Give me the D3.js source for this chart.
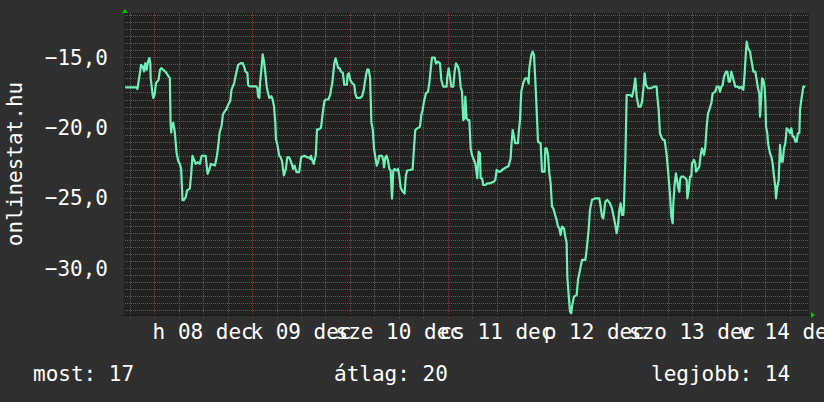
<!DOCTYPE html>
<html><head><meta charset="utf-8">
<script src="https://cdn.jsdelivr.net/npm/d3@7"></script>
<style>html,body{margin:0;padding:0;background:#2f2f2f;}svg{display:block;}</style>
</head><body>
<script>
// hours relative to 2014-12-08 00:00 and temperature values
const hours = [-7.16,-4.31,-4.15,-3.66,-3.25,-2.85,-2.52,-2.20,-1.87,-1.55,-1.22,-0.98,-0.89,-0.41,-0.24,0.08,0.41,0.73,1.06,1.38,1.71,2.20,2.68,3.01,3.50,3.82,3.99,4.15,4.31,4.64,5.04,5.45,5.86,6.26,6.59,6.92,7.24,7.73,8.05,8.71,9.03,9.36,9.68,10.17,10.66,11.15,11.63,12.61,12.94,13.10,13.42,13.91,14.89,15.38,15.70,16.03,16.52,16.84,17.33,17.66,18.14,18.63,18.96,19.61,20.10,20.58,21.23,21.72,22.05,22.37,22.86,23.02,23.35,24.98,25.30,25.47,25.79,25.95,26.28,26.60,26.93,27.26,27.58,27.91,28.23,28.72,29.05,29.37,29.70,29.86,30.18,30.67,31.00,31.32,31.81,32.30,32.63,33.11,33.60,34.09,34.42,34.90,35.55,35.88,36.04,36.86,37.51,38.00,38.32,38.48,38.81,39.13,39.30,39.62,39.95,40.44,40.92,41.25,41.74,42.06,42.71,43.20,43.37,43.69,44.18,44.50,44.83,45.15,45.48,45.81,46.29,46.62,47.27,47.43,47.76,48.08,48.57,49.06,49.39,49.71,50.52,51.01,51.34,51.66,51.99,52.31,52.64,52.97,53.29,53.62,53.94,54.27,54.60,54.92,55.24,55.89,56.22,56.38,56.71,57.04,57.36,57.69,58.01,58.34,58.50,58.66,58.99,59.31,59.64,59.80,60.13,60.45,60.78,61.10,61.43,61.75,62.08,62.75,63.41,63.74,64.06,64.56,65.21,65.54,65.87,66.19,66.68,67.17,67.50,67.83,68.15,68.81,69.14,69.63,70.12,70.45,70.94,71.75,71.92,72.25,72.57,72.90,73.39,73.72,74.05,74.54,74.86,75.19,75.52,75.85,76.17,76.34,76.66,76.99,77.32,77.65,77.97,78.30,78.79,79.12,79.28,79.61,79.94,80.10,80.43,80.76,81.25,81.74,82.39,83.37,83.70,84.03,84.52,85.01,85.34,85.99,86.97,87.47,87.63,87.96,88.28,88.61,89.27,89.43,89.76,90.08,90.58,91.07,91.56,91.88,92.05,92.54,92.87,93.19,93.52,93.85,94.18,94.83,95.16,95.81,95.98,96.30,96.63,96.96,97.29,97.61,97.94,98.27,98.76,99.09,99.41,99.74,100.07,100.56,100.89,101.21,101.38,101.70,102.03,102.36,102.52,103.01,103.67,104.00,104.49,104.98,105.80,106.12,106.61,106.94,107.43,108.25,109.23,109.56,109.89,110.21,110.71,111.20,111.85,112.34,112.83,113.16,113.49,113.82,114.14,114.47,114.80,115.12,115.29,115.62,115.94,116.76,117.25,117.58,118.07,118.40,118.89,119.38,119.71,120.03,120.36,120.69,121.18,121.83,122.65,123.31,123.47,123.80,124.12,124.62,124.94,125.27,125.76,126.09,126.58,126.91,127.24,127.40,127.73,128.05,128.55,128.87,129.04,129.36,129.86,130.35,130.67,130.84,131.17,131.49,131.82,131.98,132.47,132.80,132.96,133.29,133.78,134.11,134.44,134.93,135.25,135.58,135.91,136.24,136.56,136.73,137.05,137.71,138.04,138.53,138.86,139.18,139.51,139.84,140.33,140.66,140.98,141.31,141.64,141.96,142.29,142.62,143.27,143.60,144.09,144.26,144.58,144.91,145.24,145.40,145.73,146.22,146.55,147.04,147.53,147.86,148.18,148.51,148.67,149.00,149.17,149.49,149.82,149.98,150.15,150.47,150.64,151.13,151.45,151.78,152.11,152.44,152.60,152.93,153.26,153.58,153.91,154.24,154.56,154.89,155.22,155.71,156.04,156.37,156.69,157.02,157.35,157.67,157.98,158.33,158.49,158.82,159.31,159.80];
const temps = [-17.14,-17.14,-17.25,-16.36,-15.54,-15.66,-16.01,-15.42,-15.89,-15.31,-15.05,-15.42,-16.48,-17.65,-17.89,-17.65,-16.83,-16.71,-16.60,-15.89,-15.77,-15.89,-16.01,-16.13,-16.36,-16.48,-19.65,-20.35,-19.88,-19.65,-20.35,-21.76,-22.35,-22.58,-22.93,-25.16,-25.16,-24.93,-24.46,-24.34,-23.40,-22.00,-22.23,-22.58,-22.46,-22.58,-22.00,-22.00,-22.93,-23.29,-23.05,-22.58,-22.70,-22.00,-21.29,-20.35,-19.88,-19.06,-18.83,-18.71,-18.36,-18.12,-17.30,-16.83,-16.13,-15.54,-15.42,-15.42,-15.66,-16.01,-16.13,-16.95,-17.07,-17.07,-17.18,-17.77,-17.89,-16.83,-15.89,-14.79,-15.31,-16.13,-17.07,-17.54,-17.89,-17.77,-18.00,-18.47,-19.65,-20.82,-21.17,-22.00,-22.11,-22.35,-23.40,-22.93,-22.11,-22.11,-22.46,-22.93,-22.70,-23.17,-23.17,-22.46,-22.11,-22.00,-22.11,-22.11,-22.23,-22.00,-22.35,-22.58,-22.35,-22.00,-20.12,-20.12,-20.00,-19.18,-18.12,-18.00,-18.00,-17.65,-17.30,-16.83,-15.42,-15.07,-15.42,-15.77,-15.77,-16.01,-16.13,-16.95,-16.95,-16.24,-16.13,-16.60,-16.83,-16.95,-17.65,-17.89,-17.89,-17.77,-17.42,-16.83,-16.24,-15.85,-15.89,-16.48,-19.65,-20.12,-21.53,-22.11,-22.70,-22.46,-22.00,-22.00,-22.35,-22.82,-22.11,-22.00,-22.35,-22.93,-23.05,-25.05,-24.23,-23.05,-22.93,-23.05,-23.05,-22.93,-23.40,-24.23,-24.46,-24.58,-24.69,-23.40,-23.05,-23.01,-22.96,-21.47,-20.17,-20.05,-19.93,-19.10,-18.74,-18.15,-17.56,-17.44,-16.85,-15.90,-15.02,-15.02,-15.43,-15.31,-15.43,-16.61,-17.09,-17.09,-16.37,-15.78,-16.37,-17.09,-17.09,-16.02,-15.43,-15.66,-16.02,-17.09,-17.44,-19.46,-19.34,-17.80,-19.34,-19.46,-19.46,-21.47,-21.94,-22.18,-22.54,-23.25,-23.60,-21.71,-21.83,-23.60,-23.60,-24.08,-24.08,-23.96,-23.96,-23.84,-23.72,-23.01,-23.13,-23.13,-23.01,-22.89,-22.73,-22.18,-21.35,-20.17,-20.64,-21.11,-21.11,-20.40,-19.46,-17.44,-16.80,-16.49,-16.49,-16.85,-15.78,-14.83,-14.60,-14.83,-16.61,-18.74,-21.00,-21.11,-23.13,-23.13,-21.47,-21.47,-21.94,-23.25,-23.96,-25.62,-25.74,-26.09,-26.57,-27.04,-27.16,-27.63,-27.04,-27.16,-27.75,-28.22,-30.59,-31.90,-33.08,-33.20,-32.73,-32.02,-31.90,-30.83,-30.12,-29.41,-29.41,-28.70,-27.28,-25.85,-25.14,-25.03,-25.03,-25.62,-26.33,-26.45,-25.26,-25.14,-25.38,-25.74,-26.45,-26.92,-27.51,-26.92,-25.85,-25.38,-26.21,-26.21,-25.38,-22.30,-17.68,-17.68,-17.80,-17.44,-16.49,-17.80,-18.51,-18.51,-18.15,-17.32,-16.14,-16.97,-17.20,-17.20,-17.09,-17.09,-17.80,-18.74,-20.40,-20.76,-20.88,-20.88,-21.94,-23.01,-24.79,-26.33,-26.80,-25.38,-23.96,-23.25,-24.20,-24.55,-23.72,-23.48,-23.48,-23.60,-23.72,-25.03,-24.43,-23.48,-23.48,-22.54,-22.30,-22.54,-23.13,-23.01,-22.77,-21.94,-21.47,-21.94,-21.35,-19.93,-18.98,-18.74,-18.39,-18.27,-17.56,-17.44,-17.09,-17.09,-17.44,-17.09,-16.97,-16.37,-16.02,-16.02,-16.73,-16.73,-16.02,-16.37,-16.73,-17.09,-17.09,-17.20,-17.09,-17.20,-17.32,-16.14,-14.48,-13.89,-14.36,-14.60,-15.19,-16.02,-16.02,-16.61,-17.20,-17.56,-19.22,-17.80,-16.49,-16.61,-17.20,-18.03,-19.93,-20.40,-21.11,-21.83,-22.06,-22.54,-23.48,-24.20,-25.03,-24.20,-23.72,-21.23,-22.42,-22.42,-21.47,-21.11,-20.05,-20.17,-20.40,-20.05,-20.64,-20.64,-21.00,-21.00,-20.40,-20.40,-18.74,-18.03,-17.09,-17.09];

const yTicks = [-15, -20, -25, -30];
const dayLabels = ["h 08 dec", "k 09 dec", "sze 10 dec", "cs 11 dec", "p 12 dec", "szo 13 dec", "v 14 dec"];
const verticalTitle = "onlinestat.hu";
const legendTexts = ["most: 17", "átlag: 20", "legjobb: 14"];

const W = 824, H = 402;
const plot = {left: 123, right: 809, top: 13, bottom: 315};
const base = Date.UTC(2014, 11, 8, 0, 0);
const HOUR = 3600e3;

const x = d3.scaleUtc()
  .domain([new Date(Date.UTC(2014, 11, 7, 16, 19)), new Date(Date.UTC(2014, 11, 14, 16, 42))])
  .range([plot.left, plot.right]);
const y = d3.scaleLinear().domain([-33.36, -11.87]).range([315.5, 13.3]);

const svg = d3.select("body").append("svg").attr("width", W).attr("height", H);
svg.append("rect").attr("width", W).attr("height", H).attr("fill", "#2f2f2f");
svg.append("rect").attr("x", plot.left).attr("y", plot.top)
  .attr("width", plot.right - plot.left).attr("height", plot.bottom - plot.top).attr("fill", "#212121");

const font = "'DejaVu Sans Mono', monospace";
const fs = "21px";

// minor horizontal grid (every 0.5)
const minorY = d3.range(-66, -23).map(d => d / 2).filter(v => v % 5 !== 0 && y(v) >= plot.top && y(v) <= plot.bottom);
svg.append("g").selectAll("line").data(minorY).join("line")
  .attr("x1", plot.left).attr("x2", plot.right)
  .attr("y1", d => Math.round(y(d)) + 0.5).attr("y2", d => Math.round(y(d)) + 0.5)
  .attr("stroke", "#5c5c5c").attr("stroke-width", 1).attr("stroke-dasharray", "1,1");

// minor vertical grid (6 hours)
const minorX = x.ticks(d3.utcHour.every(6)).filter(d => d.getUTCHours() !== 0);
svg.append("g").selectAll("line").data(minorX).join("line")
  .attr("x1", d => Math.round(x(d)) + 0.5).attr("x2", d => Math.round(x(d)) + 0.5)
  .attr("y1", plot.top).attr("y2", plot.bottom + 3)
  .attr("stroke", "#5c5c5c").attr("stroke-width", 1).attr("stroke-dasharray", "1,1");

// major grid
svg.append("g").selectAll("line").data(yTicks).join("line")
  .attr("x1", plot.left - 2).attr("x2", plot.right)
  .attr("y1", d => Math.round(y(d)) + 0.5).attr("y2", d => Math.round(y(d)) + 0.5)
  .attr("stroke", "#8a3838").attr("stroke-width", 1).attr("stroke-dasharray", "1,1");
const majorX = x.ticks(d3.utcDay.every(1));
svg.append("g").selectAll("line").data(majorX).join("line")
  .attr("x1", d => Math.round(x(d)) + 0.5).attr("x2", d => Math.round(x(d)) + 0.5)
  .attr("y1", plot.top).attr("y2", plot.bottom + 3)
  .attr("stroke", "#8a3838").attr("stroke-width", 1).attr("stroke-dasharray", "1,1");

// axis lines
svg.append("line").attr("x1", plot.left - 2).attr("x2", plot.right + 2)
  .attr("y1", plot.bottom + 0.5).attr("y2", plot.bottom + 0.5).attr("stroke", "#1a1a1a");
svg.append("line").attr("x1", plot.left + 0.5).attr("x2", plot.left + 0.5)
  .attr("y1", plot.top - 1).attr("y2", plot.bottom + 2).attr("stroke", "#2a2a2a");
// arrows
svg.append("path").attr("d", `M${plot.left - 1},${plot.top} L${plot.left + 2},${plot.top - 4} L${plot.left + 5},${plot.top} Z`).attr("fill", "#00cc00");
svg.append("path").attr("d", `M${plot.right + 2},${plot.bottom - 3} L${plot.right + 6},${plot.bottom} L${plot.right + 2},${plot.bottom + 3} Z`).attr("fill", "#00cc00");

// line
const data = hours.map((h, i) => ({t: new Date(base + h * HOUR), v: temps[i]}));
const line = d3.line().x(d => x(d.t)).y(d => y(d.v));
svg.append("path").datum(data).attr("d", line)
  .attr("fill", "none").attr("stroke", "#6ff0b6").attr("stroke-width", 2.2).attr("stroke-linejoin", "round");

// y labels
svg.append("g").selectAll("text").data(yTicks).join("text")
  .attr("x", 108).attr("y", d => y(d) + 7.5)
  .attr("text-anchor", "end").attr("fill", "#ffffff")
  .style("font-family", font).style("font-size", fs)
  .text(d => d3.format(".1f")(d).replace(".", ","));

// x labels (centered at noon)
const noons = majorX.map(d => new Date(+d + 12 * HOUR)).filter(d => x(d) <= plot.right);
svg.append("g").selectAll("text").data(noons).join("text")
  .attr("x", d => x(d)).attr("y", 339)
  .attr("text-anchor", "middle").attr("fill", "#ffffff")
  .style("font-family", font).style("font-size", fs)
  .text((d, i) => dayLabels[i]);

// vertical title
svg.append("text").attr("transform", `translate(22,${(plot.top + plot.bottom) / 2}) rotate(-90)`)
  .attr("text-anchor", "middle").attr("fill", "#ffffff")
  .style("font-family", font).style("font-size", fs).text(verticalTitle);

// legend
const legendX = [33, 334, 651];
svg.append("g").selectAll("text").data(legendTexts).join("text")
  .attr("x", (d, i) => legendX[i]).attr("y", 381)
  .attr("fill", "#ffffff")
  .style("font-family", font).style("font-size", fs)
  .text(d => d);
</script>
</body></html>
